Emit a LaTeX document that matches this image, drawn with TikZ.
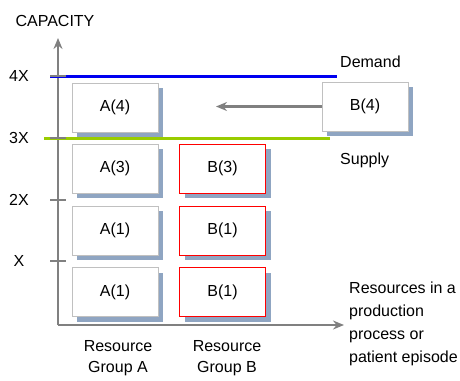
\documentclass[tikz,border=0pt]{standalone}
\usepackage{fontspec}
\setmainfont{Liberation Sans}
\usetikzlibrary{arrows.meta,positioning,shadows}
\definecolor{axisgray}{HTML}{808080}
\definecolor{boxgray}{HTML}{C0C0C0}
\definecolor{shadowblue}{HTML}{8FA5C2}
\definecolor{demandblue}{HTML}{0000F0}
\definecolor{supplygreen}{HTML}{99CC00}

\begin{document}
\begin{tikzpicture}[x=1pt,y=-1pt,
  res/.style={draw=boxgray,fill=white,minimum width=86pt,minimum height=49pt,
    font=\fontsize{16}{19}\selectfont,
    general shadow={shadow xshift=5pt,shadow yshift=-5pt,fill=shadowblue}},
  resb/.style={res,draw=red},
  lbl/.style={font=\fontsize{16}{19}\selectfont,inner sep=0pt},
  axis/.style={draw=axisgray,line width=2.5pt,-{Stealth[length=11pt,width=9pt]}}]
  \useasboundingbox (0,0) rectangle (460,380);
  % axes
  \coordinate (o) at (58,325);
  \coordinate (ytop) at (58,38);
  \coordinate (xend) at (344,325);
  \draw[axis] (o) -- (ytop);
  \draw[axis] (o) -- (xend);
  \node[lbl] (cap) at (55,21) {CAPACITY};
  % demand and supply
  \coordinate (d0) at (50,76); \coordinate (d1) at (337,76);
  \coordinate (s0) at (44,138); \coordinate (s1) at (330,138);
  \draw[demandblue,line width=3pt] (d0) -- (d1);
  \draw[supplygreen,line width=3pt] (s0) -- (s1);
  \node[lbl,anchor=west] (dem) at (340,62) {Demand};
  \node[lbl,anchor=west] (sup) at (340,160) {Supply};
  % ticks
  \foreach \y/\t/\n in {76/4X/t4,138/3X/t3,200/2X/t2,261/X/t1}{
    \draw[axisgray,line width=1.2pt] (50,\y) -- (66,\y);
    \node[lbl] (\n) at (19,\y) {\t};
  }
  % resources
  \node[res] (a4) at (115,107.5) {A(4)};
  \node[res] (a3) at (115,168.5) {A(3)};
  \node[res] (a2) at (115,230.5) {A(1)};
  \node[res] (a1) at (115,292) {A(1)};
  \node[resb] (b3) at (222.5,168.5) {B(3)};
  \node[resb] (b2) at (222.5,230.5) {B(1)};
  \node[resb] (b1) at (222.5,292) {B(1)};
  \node[res] (b4) at (365,106.5) {B(4)};
  \coordinate (mv) at (216,106.5);
  \draw[draw=axisgray,line width=2.5pt,-{Stealth[length=11pt,width=9pt]}] (b4.west) -- (mv);
  % captions
  \node[lbl,align=center,font=\fontsize{16}{21}\selectfont] (ga) at (118,358) {Resource\\Group A};
  \node[lbl,align=center,font=\fontsize{16}{21}\selectfont] (gb) at (227,358) {Resource\\Group B};
  \node[lbl,align=left,anchor=north west,font=\fontsize{16}{23}\selectfont] (res) at (349,282)
    {Resources in a\\production\\process or\\patient episode};
\end{tikzpicture}
\end{document}
